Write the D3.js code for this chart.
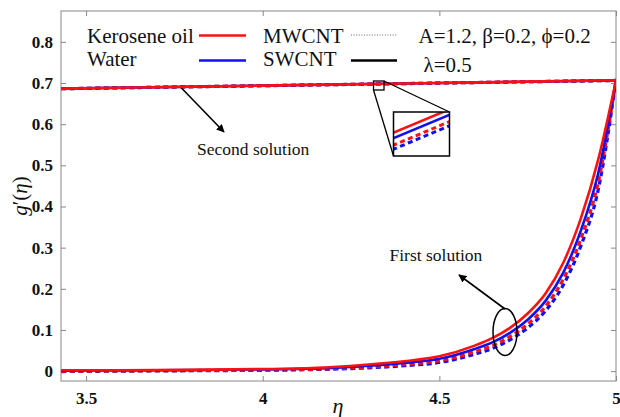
<!DOCTYPE html>
<html>
<head>
<meta charset="utf-8">
<script src="https://cdn.jsdelivr.net/npm/d3@7"></script>
<style>
  html, body { margin: 0; padding: 0; background: #fff; }
  svg { display: block; }
  svg text { font-family: "Liberation Serif", "Times New Roman", Times, "DejaVu Serif", serif; }
</style>
</head>
<body>
<svg id="chart" width="620" height="417"></svg>
<script>
// ---- data ----
const etaFirst = [3.43, 3.6, 3.8, 4.0, 4.1, 4.2, 4.3, 4.4, 4.5, 4.6, 4.65, 4.7, 4.75, 4.8, 4.85, 4.9, 4.95, 5.0];
const firstKeroseneMW = [0.002, 0.002, 0.003, 0.005, 0.0065, 0.010, 0.016, 0.024, 0.036, 0.062, 0.080, 0.105, 0.140, 0.188, 0.262, 0.370, 0.515, 0.707];
const firstWaterMW    = [0.001, 0.0015, 0.0025, 0.004, 0.0055, 0.008, 0.013, 0.020, 0.030, 0.054, 0.070, 0.093, 0.125, 0.170, 0.238, 0.340, 0.482, 0.707];
const firstKeroseneSW = [0.000, 0.0005, 0.0015, 0.003, 0.004, 0.006, 0.010, 0.016, 0.025, 0.047, 0.062, 0.084, 0.114, 0.157, 0.222, 0.320, 0.460, 0.707];
const firstWaterSW    = [-0.001, 0.000, 0.001, 0.002, 0.003, 0.005, 0.008, 0.013, 0.021, 0.041, 0.055, 0.076, 0.105, 0.146, 0.208, 0.303, 0.442, 0.707];

const etaSecond = [3.43, 4.0, 4.5, 5.0];
const secondKeroseneMW = [0.68650, 0.69380, 0.70020, 0.70660];
const secondWaterMW    = [0.68638, 0.69368, 0.70008, 0.70648];
const secondKeroseneSW = [0.68623, 0.69353, 0.69993, 0.70633];
const secondWaterSW    = [0.68614, 0.69344, 0.69984, 0.70624];

const xTicks = [3.5, 4, 4.5, 5];
const yTicks = [0, 0.1, 0.2, 0.3, 0.4, 0.5, 0.6, 0.7, 0.8];
const xTickLabels = ["3.5", "4", "4.5", "5"];
const yTickLabels = ["0", "0.1", "0.2", "0.3", "0.4", "0.5", "0.6", "0.7", "0.8"];

// region of the second solution shown magnified in the inset
const zoomEta = [4.31, 4.35];
const zoomG = [0.69726, 0.69822];

// ---- layout ----
const W = 620, H = 417;
const m = { left: 61, right: 4, top: 11, bottom: 36 };
const svg = d3.select("#chart");
const SERIF = "'Liberation Serif', 'Times New Roman', Times, 'DejaVu Serif', serif";

const x = d3.scaleLinear().domain([3.429, 5.0]).range([m.left, W - m.right]);
const y = d3.scaleLinear().domain([-0.024, 0.875]).range([H - m.bottom, m.top]);

const RED = "#ff1010", BLUE = "#1010ee";

const defs = svg.append("defs");
defs.append("clipPath").attr("id", "plotClip")
  .append("rect").attr("x", m.left).attr("y", m.top)
  .attr("width", W - m.left - m.right).attr("height", H - m.top - m.bottom);
defs.append("marker").attr("id", "arrow").attr("viewBox", "0 0 10 10")
  .attr("refX", 9).attr("refY", 5).attr("markerWidth", 8).attr("markerHeight", 8)
  .attr("markerUnits", "userSpaceOnUse").attr("orient", "auto")
  .append("path").attr("d", "M0,0 L10,5 L0,10 Z").attr("fill", "#000");

// ---- frame and inward ticks on all four sides ----
const axisColor = "#888";
const tickLen = 5;
svg.append("rect").attr("x", m.left).attr("y", m.top)
  .attr("width", W - m.left - m.right).attr("height", H - m.top - m.bottom)
  .attr("fill", "none").attr("stroke", axisColor).attr("stroke-width", 1);

const bottomAxis = d3.axisBottom(x).tickValues(xTicks).tickSize(-tickLen).tickFormat((d, i) => xTickLabels[i]).tickPadding(11);
const topAxis = d3.axisTop(x).tickValues(xTicks).tickSize(-tickLen).tickFormat("");
const leftAxis = d3.axisLeft(y).tickValues(yTicks).tickSize(-tickLen).tickFormat((d, i) => yTickLabels[i]).tickPadding(8);
const rightAxis = d3.axisRight(y).tickValues(yTicks).tickSize(-tickLen).tickFormat("");

function styleAxis(g) {
  g.attr("font-family", SERIF);
  g.select(".domain").remove();
  g.selectAll(".tick line").attr("stroke", axisColor);
  g.selectAll(".tick text").attr("fill", "#111")
    .attr("font-family", SERIF)
    .attr("font-size", 17).attr("font-weight", "bold");
}
svg.append("g").attr("transform", `translate(0,${H - m.bottom})`).call(bottomAxis).call(styleAxis);
svg.append("g").attr("transform", `translate(0,${m.top})`).call(topAxis).call(styleAxis);
svg.append("g").attr("transform", `translate(${m.left},0)`).call(leftAxis).call(styleAxis);
svg.append("g").attr("transform", `translate(${W - m.right},0)`).call(rightAxis).call(styleAxis);

// ---- curves ----
function toPoints(etas, vals) { return etas.map((e, i) => [e, vals[i]]); }
const line = d3.line().x(d => x(d[0])).y(d => y(d[1])).curve(d3.curveMonotoneX);

const curves = svg.append("g").attr("clip-path", "url(#plotClip)");
const series = [
  { eta: etaFirst, v: firstWaterSW, color: BLUE, dash: true },
  { eta: etaFirst, v: firstKeroseneSW, color: RED, dash: true },
  { eta: etaFirst, v: firstWaterMW, color: BLUE, dash: false },
  { eta: etaFirst, v: firstKeroseneMW, color: RED, dash: false },
  { eta: etaSecond, v: secondWaterSW, color: BLUE, dash: true },
  { eta: etaSecond, v: secondKeroseneSW, color: RED, dash: true },
  { eta: etaSecond, v: secondWaterMW, color: BLUE, dash: false },
  { eta: etaSecond, v: secondKeroseneMW, color: RED, dash: false }
];
series.forEach(s => {
  curves.append("path").datum(toPoints(s.eta, s.v))
    .attr("d", line).attr("fill", "none").attr("stroke", s.color)
    .attr("stroke-width", s.dash ? 3.2 : 2.6)
    .attr("stroke-dasharray", s.dash ? "5,3.5" : null);
});

// ---- magnified view of the second solution ----
const smallBox = { x0: 373.5, y0: 81, x1: 384, y1: 90 };
const inset = { x0: 393.5, y0: 112, x1: 449.5, y1: 156 };
const xi = d3.scaleLinear().domain(zoomEta).range([inset.x0, inset.x1]);
const yi = d3.scaleLinear().domain(zoomG).range([inset.y1, inset.y0]);

svg.append("rect").attr("x", smallBox.x0).attr("y", smallBox.y0)
  .attr("width", smallBox.x1 - smallBox.x0).attr("height", smallBox.y1 - smallBox.y0)
  .attr("fill", "none").attr("stroke", "#000").attr("stroke-width", 1.3);
svg.append("line").attr("x1", smallBox.x1).attr("y1", smallBox.y0)
  .attr("x2", inset.x1).attr("y2", inset.y0).attr("stroke", "#000").attr("stroke-width", 1.3);
svg.append("line").attr("x1", smallBox.x0).attr("y1", smallBox.y1)
  .attr("x2", inset.x0).attr("y2", inset.y1).attr("stroke", "#000").attr("stroke-width", 1.3);

defs.append("clipPath").attr("id", "insetClip")
  .append("rect").attr("x", inset.x0).attr("y", inset.y0)
  .attr("width", inset.x1 - inset.x0).attr("height", inset.y1 - inset.y0);
svg.append("rect").attr("x", inset.x0).attr("y", inset.y0)
  .attr("width", inset.x1 - inset.x0).attr("height", inset.y1 - inset.y0)
  .attr("fill", "#fff");
const insetLine = d3.line().x(d => xi(d[0])).y(d => yi(d[1]));
const insetG = svg.append("g").attr("clip-path", "url(#insetClip)");
[
  { v: secondKeroseneMW, color: RED, dash: false },
  { v: secondWaterMW, color: BLUE, dash: false },
  { v: secondKeroseneSW, color: RED, dash: true },
  { v: secondWaterSW, color: BLUE, dash: true }
].forEach(s => {
  insetG.append("path").datum(toPoints(etaSecond, s.v))
    .attr("d", insetLine).attr("fill", "none").attr("stroke", s.color)
    .attr("stroke-width", s.dash ? 3 : 2.6)
    .attr("stroke-dasharray", s.dash ? "5,3.5" : null);
});
svg.append("rect").attr("x", inset.x0).attr("y", inset.y0)
  .attr("width", inset.x1 - inset.x0).attr("height", inset.y1 - inset.y0)
  .attr("fill", "none").attr("stroke", "#000").attr("stroke-width", 1.5);

// ---- annotations ----
svg.append("line").attr("x1", 181.5).attr("y1", 88).attr("x2", 224).attr("y2", 132)
  .attr("stroke", "#000").attr("stroke-width", 1.6).attr("marker-end", "url(#arrow)");
svg.append("text").attr("x", 197).attr("y", 155).attr("font-size", 17.5).attr("fill", "#111")
  .attr("font-family", SERIF).text("Second solution");

svg.append("ellipse").attr("cx", 505).attr("cy", 332).attr("rx", 12).attr("ry", 23.5)
  .attr("fill", "none").attr("stroke", "#000").attr("stroke-width", 1.5);
svg.append("line").attr("x1", 505).attr("y1", 309).attr("x2", 459).attr("y2", 275)
  .attr("stroke", "#000").attr("stroke-width", 1.6).attr("marker-end", "url(#arrow)");
svg.append("text").attr("x", 389.5).attr("y", 260.5).attr("font-size", 17.5).attr("fill", "#111")
  .attr("font-family", SERIF).text("First solution");

// ---- legend ----
const leg = svg.append("g").attr("font-size", 21).attr("fill", "#111").attr("font-family", SERIF);
leg.append("text").attr("x", 87).attr("y", 42.5).text("Kerosene oil");
leg.append("text").attr("x", 87).attr("y", 66).text("Water");
leg.append("line").attr("x1", 199).attr("x2", 246).attr("y1", 35.5).attr("y2", 35.5)
  .attr("stroke", RED).attr("stroke-width", 2.6);
leg.append("line").attr("x1", 199).attr("x2", 246).attr("y1", 60.5).attr("y2", 60.5)
  .attr("stroke", BLUE).attr("stroke-width", 2.6);
leg.append("text").attr("x", 263).attr("y", 42.5).text("MWCNT");
leg.append("text").attr("x", 263).attr("y", 66).text("SWCNT");
leg.append("line").attr("x1", 351).attr("x2", 397).attr("y1", 35).attr("y2", 35)
  .attr("stroke", "#999").attr("stroke-width", 1.3).attr("stroke-dasharray", "1,1.6");
leg.append("line").attr("x1", 351).attr("x2", 397).attr("y1", 60.5).attr("y2", 60.5)
  .attr("stroke", "#000").attr("stroke-width", 2.6);
leg.append("text").attr("x", 418.5).attr("y", 42.5).text("A=1.2, β=0.2, ϕ=0.2");
leg.append("text").attr("x", 423.5).attr("y", 71.5).text("λ=0.5");

// ---- axis titles ----
const yTitle = svg.append("text").attr("transform", "translate(27,196) rotate(-90)")
  .attr("text-anchor", "middle").attr("font-size", 21).attr("font-style", "italic")
  .attr("font-family", SERIF).attr("fill", "#111");
yTitle.append("tspan").text("g");
yTitle.append("tspan").attr("font-style", "normal").text("′");
yTitle.append("tspan").attr("font-style", "normal").text("(");
yTitle.append("tspan").text("η");
yTitle.append("tspan").attr("font-style", "normal").text(")");

svg.append("text").attr("x", 338).attr("y", 413).attr("text-anchor", "middle")
  .attr("font-size", 22).attr("font-style", "italic").attr("font-family", SERIF)
  .attr("fill", "#111").text("η");
</script>
</body>
</html>
